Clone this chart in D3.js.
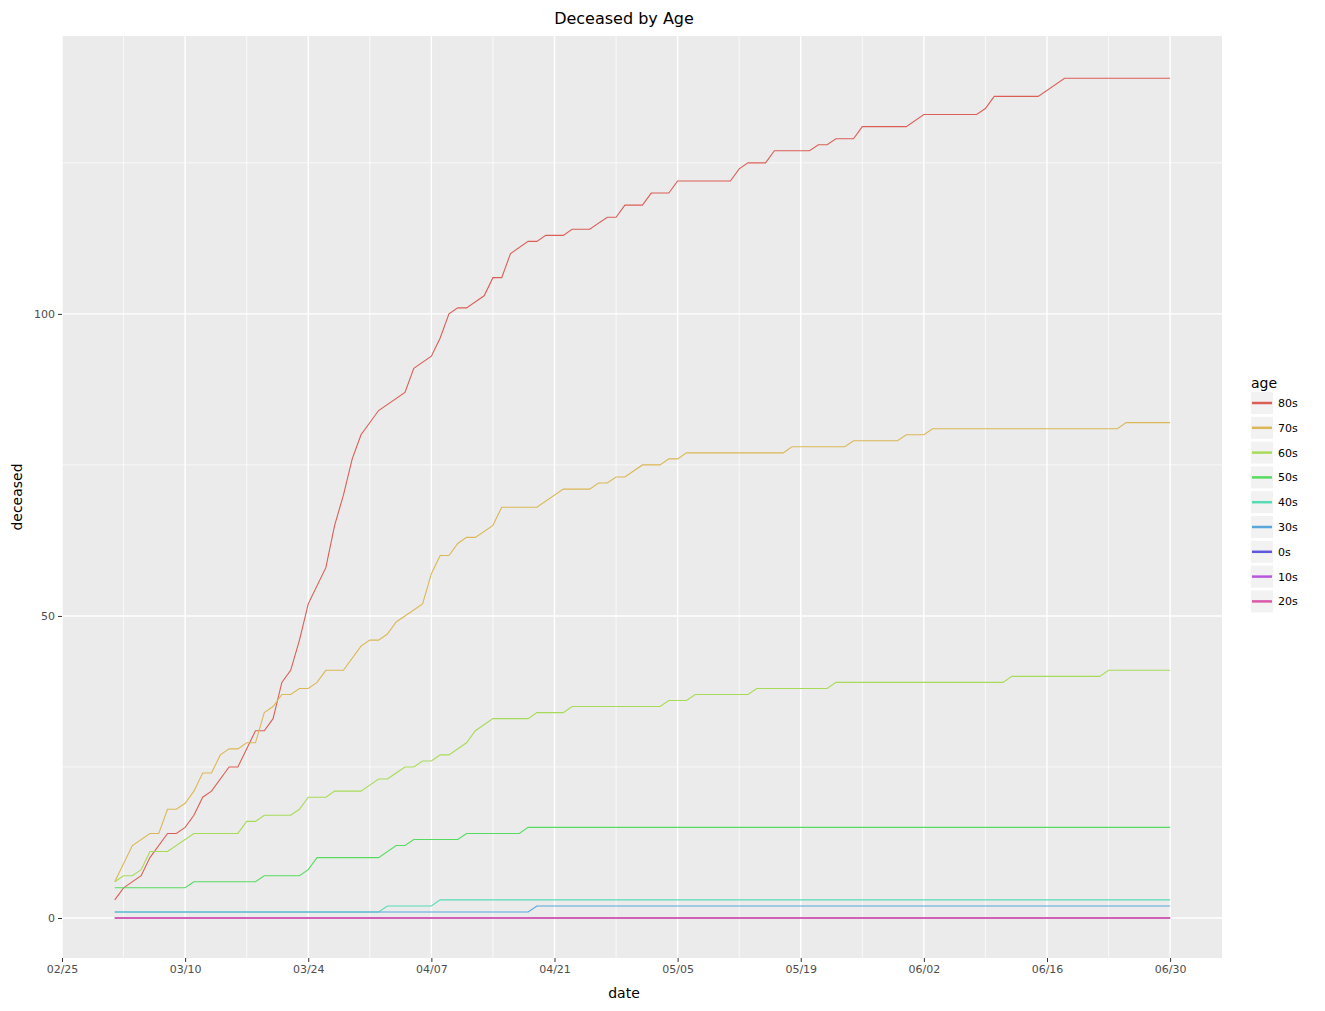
<!DOCTYPE html>
<html>
<head>
<meta charset="utf-8">
<script src="https://cdn.jsdelivr.net/npm/d3@7"></script>
<style>
  body { margin: 0; background: #fff; }
  text { font-family: "DejaVu Sans", sans-serif; }
</style>
</head>
<body>
<svg width="1325" height="1011"></svg>
<script>
const svg = d3.select("svg");

// [day since 03/02, deceased]
const ages = ["80s", "70s", "60s", "50s", "40s", "30s", "0s", "10s", "20s"];
const colors = ["#db5f57", "#dbb757", "#a7db57", "#57db5f", "#57dbb6", "#57a7db", "#5f57db", "#b757db", "#db57a7"];

const s80 = [[0,3],[1,5],[3,7],[4,10],[6,14],[7,14],[8,15],[9,17],[10,20],[11,21],[13,25],[14,25],[16,31],[17,31],[18,33],[19,39],[20,41],[21,46],[22,52],[24,58],[25,65],[26,70],[27,76],[28,80],[30,84],[33,87],[34,91],[36,93],[37,96],[38,100],[39,101],[40,101],[42,103],[43,106],[44,106],[45,110],[47,112],[48,112],[49,113],[51,113],[52,114],[54,114],[56,116],[57,116],[58,118],[60,118],[61,120],[63,120],[64,122],[70,122],[71,124],[72,125],[74,125],[75,127],[79,127],[80,128],[81,128],[82,129],[84,129],[85,131],[90,131],[92,133],[98,133],[99,134],[100,136],[105,136],[108,139],[120,139]];
const s70 = [[0,6],[2,12],[4,14],[5,14],[6,18],[7,18],[8,19],[9,21],[10,24],[11,24],[12,27],[13,28],[14,28],[15,29],[16,29],[17,34],[18,35],[19,37],[20,37],[21,38],[22,38],[23,39],[24,41],[26,41],[28,45],[29,46],[30,46],[31,47],[32,49],[35,52],[36,57],[37,60],[38,60],[39,62],[40,63],[41,63],[43,65],[44,68],[48,68],[51,71],[54,71],[55,72],[56,72],[57,73],[58,73],[60,75],[62,75],[63,76],[64,76],[65,77],[76,77],[77,78],[83,78],[84,79],[89,79],[90,80],[92,80],[93,81],[114,81],[115,82],[120,82]];
const s60 = [[0,6],[1,7],[2,7],[3,8],[4,11],[6,11],[9,14],[14,14],[15,16],[16,16],[17,17],[20,17],[21,18],[22,20],[24,20],[25,21],[28,21],[29,22],[30,23],[31,23],[32,24],[33,25],[34,25],[35,26],[36,26],[37,27],[38,27],[40,29],[41,31],[43,33],[47,33],[48,34],[51,34],[52,35],[62,35],[63,36],[65,36],[66,37],[72,37],[73,38],[81,38],[82,39],[101,39],[102,40],[112,40],[113,41],[120,41]];
const s50 = [[0,5],[8,5],[9,6],[16,6],[17,7],[21,7],[22,8],[23,10],[30,10],[32,12],[33,12],[34,13],[39,13],[40,14],[46,14],[47,15],[120,15]];
const s40 = [[0,1],[30,1],[31,2],[36,2],[37,3],[120,3]];
const s30 = [[0,1],[47,1],[48,2],[120,2]];
const s0 = [[0,0],[120,0]];
const s10 = [[0,0],[120,0]];
const s20 = [[0,0],[120,0]];
const series = [s80, s70, s60, s50, s40, s30, s0, s10, s20];

const xTickLabels = ["02/25", "03/10", "03/24", "04/07", "04/21", "05/05", "05/19", "06/02", "06/16", "06/30"];
const yTicks = [0, 50, 100];

const panel = {left: 62, top: 36, right: 1222, bottom: 958};
const t0 = new Date(2020, 1, 25);
const start = new Date(2020, 2, 2);
const day = 864e5;
const dayOf = d => new Date(start.getTime() + d * day);

const x = d3.scaleTime()
  .domain([t0, new Date(t0.getTime() + 131.9 * day)])
  .range([panel.left, panel.right]);
const y = d3.scaleLinear().domain([-6.62, 146.0]).range([panel.bottom, panel.top]);

const xTicks = xTickLabels.map((_, i) => new Date(t0.getTime() + i * 14 * day));
const xMinor = xTicks.map(t => new Date(t.getTime() + 7 * day));

svg.append("rect")
  .attr("x", panel.left).attr("y", panel.top)
  .attr("width", panel.right - panel.left).attr("height", panel.bottom - panel.top)
  .attr("fill", "#ebebeb");

const grid = svg.append("g");
xMinor.filter(t => x(t) < panel.right).forEach(t => {
  grid.append("line").attr("x1", x(t)).attr("x2", x(t)).attr("y1", panel.top).attr("y2", panel.bottom)
    .attr("stroke", "#fff").attr("stroke-width", 0.7);
});
[25, 75, 125].forEach(v => {
  grid.append("line").attr("x1", panel.left).attr("x2", panel.right).attr("y1", y(v)).attr("y2", y(v))
    .attr("stroke", "#fff").attr("stroke-width", 0.7);
});
xTicks.forEach(t => {
  grid.append("line").attr("x1", x(t)).attr("x2", x(t)).attr("y1", panel.top).attr("y2", panel.bottom)
    .attr("stroke", "#fff").attr("stroke-width", 1.4);
});
yTicks.forEach(v => {
  grid.append("line").attr("x1", panel.left).attr("x2", panel.right).attr("y1", y(v)).attr("y2", y(v))
    .attr("stroke", "#fff").attr("stroke-width", 1.4);
});

// axes
const xAxis = d3.axisBottom(x).tickValues(xTicks).tickFormat((d, i) => xTickLabels[i]).tickSize(4).tickPadding(3);
const xg = svg.append("g").attr("transform", `translate(0,${panel.bottom})`).call(xAxis);
const yAxis = d3.axisLeft(y).tickValues(yTicks).tickSize(4).tickPadding(3);
const yg = svg.append("g").attr("transform", `translate(${panel.left},0)`).call(yAxis);
[xg, yg].forEach(a => {
  a.select(".domain").remove();
  a.selectAll(".tick line").attr("stroke", "#333");
  a.selectAll(".tick text").attr("fill", "#4d4d4d").style("font-size", "11px");
});

// lines
const line = d3.line().x(d => x(dayOf(d[0]))).y(d => y(d[1]));
series.forEach((s, i) => {
  svg.append("path").datum(s)
    .attr("d", line)
    .attr("fill", "none")
    .attr("stroke", colors[i])
    .attr("stroke-width", i === series.length - 1 ? 1.6 : 1.1);
});

// titles
svg.append("text").attr("x", 624).attr("y", 24).attr("text-anchor", "middle")
  .style("font-size", "16px").text("Deceased by Age");
svg.append("text").attr("x", 624).attr("y", 998).attr("text-anchor", "middle")
  .style("font-size", "14px").text("date");
svg.append("text").attr("transform", "rotate(-90)").attr("x", -497).attr("y", 22)
  .attr("text-anchor", "middle").style("font-size", "14px").text("deceased");

// legend
const legend = svg.append("g").attr("transform", "translate(1251,0)");
legend.append("text").attr("x", 0).attr("y", 388).style("font-size", "14px").text("age");
ages.forEach((a, i) => {
  const row = legend.append("g").attr("transform", `translate(0,${392 + i * 24.8})`);
  row.append("rect").attr("width", 22).attr("height", 22).attr("fill", "#f2f2f2");
  row.append("line").attr("x1", 1).attr("x2", 21).attr("y1", 11).attr("y2", 11)
    .attr("stroke", colors[i]).attr("stroke-width", 2.5);
  row.append("text").attr("x", 27).attr("y", 15).style("font-size", "11px").text(a);
});
</script>
</body>
</html>
